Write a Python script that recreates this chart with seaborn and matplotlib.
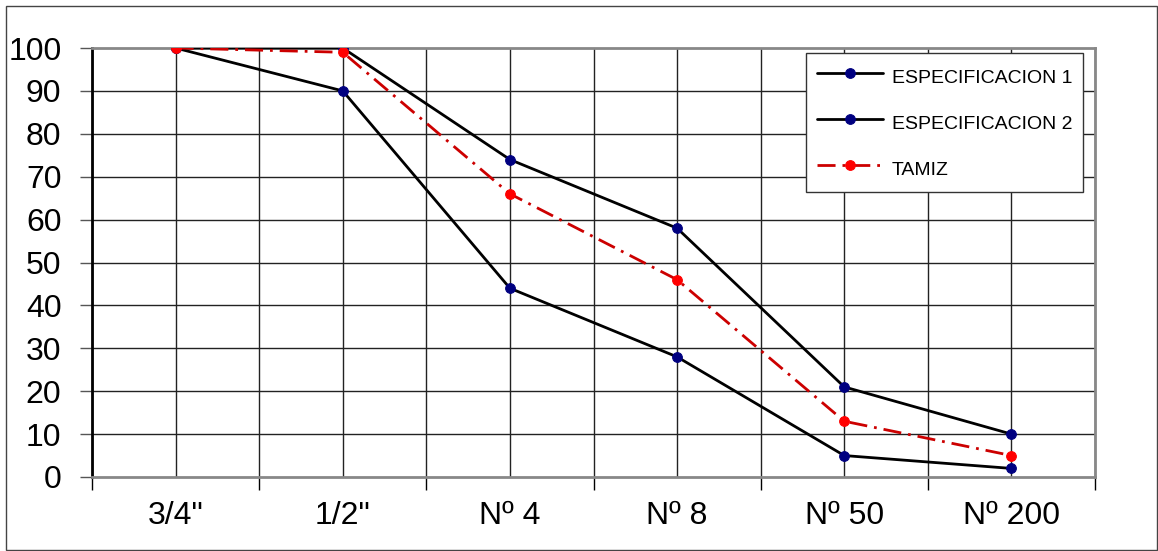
import numpy as np
import pandas as pd
import matplotlib
matplotlib.use("Agg")
import matplotlib.pyplot as plt
from matplotlib.patches import Rectangle
import seaborn as sns

# Sieve sizes and percent passing
categories = ['3/4"', '1/2"', 'Nº 4', 'Nº 8', 'Nº 50', 'Nº 200']
espec1 = [100, 100, 74, 58, 21, 10]
espec2 = [100, 90, 44, 28, 5, 2]
tamiz = [100, 99, 66, 46, 13, 5]
y_ticks = [0, 10, 20, 30, 40, 50, 60, 70, 80, 90, 100]

sns.set_style("white")
plt.rcParams['font.family'] = ['Liberation Sans', 'DejaVu Sans']
plt.rcParams['text.color'] = 'black'
plt.rcParams['xtick.color'] = 'black'
plt.rcParams['ytick.color'] = 'black'

W, H = 1158, 551
fig = plt.figure(figsize=(W / 100, H / 100), dpi=100)
ax = fig.add_axes([92 / W, 1 - 477 / H, (1095 - 92) / W, (477 - 48) / H])

xpos = np.arange(len(categories))
df = pd.DataFrame({"x": xpos, "e1": espec1, "e2": espec2, "t": tamiz})

sns.lineplot(data=df, x="x", y="e1", ax=ax, color="black", lw=2,
             marker="o", markersize=7, markerfacecolor="#000080",
             markeredgecolor="#000080", label="ESPECIFICACION 1", zorder=3)
sns.lineplot(data=df, x="x", y="e2", ax=ax, color="black", lw=2,
             marker="o", markersize=7, markerfacecolor="#000080",
             markeredgecolor="#000080", label="ESPECIFICACION 2", zorder=3)
sns.lineplot(data=df, x="x", y="t", ax=ax, color="#CC0000", lw=2,
             linestyle=(0, (6.5, 2.5, 1, 2.5)),
             marker="o", markersize=7, markerfacecolor="#FF0000",
             markeredgecolor="#FF0000", label="TAMIZ", zorder=4)

ax.set_xlim(-0.5, len(categories) - 0.5)
ax.set_ylim(0, 100)
ax.set_xlabel("")
ax.set_ylabel("")

# gridlines at category centres and boundaries
for xv in np.arange(-0.5, len(categories), 0.5):
    ax.axvline(xv, color="#222222", lw=1, zorder=1)
for yv in y_ticks[1:-1]:
    ax.axhline(yv, color="#222222", lw=1, zorder=1)

ax.set_yticks(y_ticks)
ax.set_xticks(np.arange(-0.5, len(categories), 1.0))
ax.set_xticklabels([])
ax.set_xticks(xpos, minor=True)
ax.set_xticklabels(categories, minor=True)
ax.tick_params(axis="x", which="major", direction="out", length=9, width=1,
               color="black", bottom=True)
ax.tick_params(axis="x", which="minor", length=0, pad=17, labelsize=23)
ax.tick_params(axis="y", direction="out", length=9, width=1, color="#555555",
               left=True, labelsize=23, pad=13)

for side in ["top", "right", "bottom"]:
    ax.spines[side].set_color("#888888")
    ax.spines[side].set_linewidth(2)
ax.spines["left"].set_color("black")
ax.spines["left"].set_linewidth(2)

leg = ax.legend(loc="upper right", bbox_to_anchor=((1083 - 92) / (1095 - 92), 1 - 5 / 429),
                frameon=True, fancybox=False, fontsize=14, handlelength=3.4,
                handleheight=1.7, labelspacing=1.0, borderpad=0.55,
                handletextpad=0.46, borderaxespad=0)
leg.get_frame().set_edgecolor("#333333")
leg.get_frame().set_linewidth(1)
leg.get_frame().set_facecolor("white")
leg.get_frame().set_alpha(1)
leg.set_zorder(10)

fig.patches.append(Rectangle((6 / W, 1 / H), (1157 - 6) / W, (H - 7) / H,
                             transform=fig.transFigure, fill=False,
                             edgecolor="#444444", lw=1))

fig.savefig("out.png", dpi=100)
